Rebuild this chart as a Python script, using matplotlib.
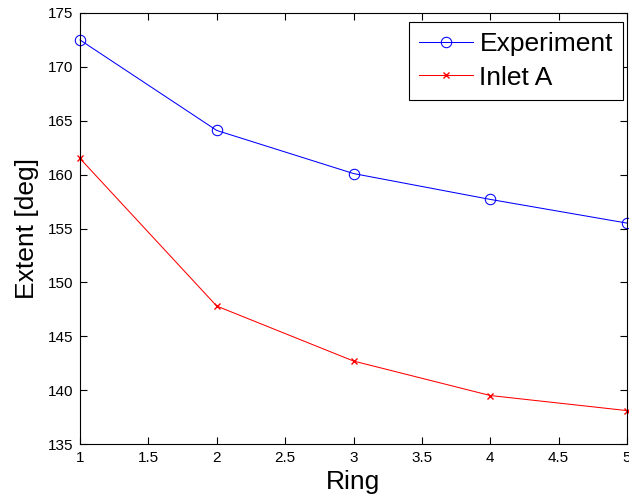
import matplotlib
matplotlib.use("Agg")
import matplotlib.pyplot as plt

plt.rcParams['font.family'] = ['Liberation Sans', 'DejaVu Sans']

ring = [1, 2, 3, 4, 5]
experiment = [172.5, 164.1, 160.1, 157.7, 155.5]
inlet_a = [161.5, 147.8, 142.7, 139.5, 138.1]

xticks = [1, 1.5, 2, 2.5, 3, 3.5, 4, 4.5, 5]
xtick_labels = ['1', '1.5', '2', '2.5', '3', '3.5', '4', '4.5', '5']
yticks = [135, 140, 145, 150, 155, 160, 165, 170, 175]

W, H = 629, 504
fig = plt.figure(figsize=(W / 100, H / 100), dpi=100)
ax = fig.add_axes([80 / W, 1 - 444 / H, (627 - 80) / W, (444 - 13) / H])

ax.plot(ring, experiment, color='#0000ff', lw=0.75, marker='o', ms=7.5,
        mfc='none', mec='#0000ff', mew=0.75, label='Experiment', clip_on=False)
ax.plot(ring, inlet_a, color='#ff0000', lw=0.75, marker='x', ms=4,
        mec='#ff0000', mew=1.0, label='Inlet A', clip_on=False)

ax.set_xlim(1, 5)
ax.set_ylim(135, 175)
ax.set_xticks(xticks)
ax.set_xticklabels(xtick_labels)
ax.set_yticks(yticks)
ax.tick_params(direction='in', top=True, right=True, length=5, width=0.8,
               labelsize=11, pad=5)
for s in ax.spines.values():
    s.set_linewidth(0.8)

ax.set_xlabel('Ring', fontsize=19, labelpad=4)
ax.set_ylabel('Extent [deg]', fontsize=19, labelpad=6)

leg = ax.legend(loc='upper right', bbox_to_anchor=(623 / W, 1 - 22 / H),
                bbox_transform=fig.transFigure, borderaxespad=0,
                fontsize=19, frameon=True, fancybox=False,
                edgecolor='black', framealpha=1, borderpad=0.38,
                handlelength=2.05, handletextpad=0.25, labelspacing=0.36)
leg.get_frame().set_linewidth(0.8)

fig.savefig('out.png', dpi=100)
